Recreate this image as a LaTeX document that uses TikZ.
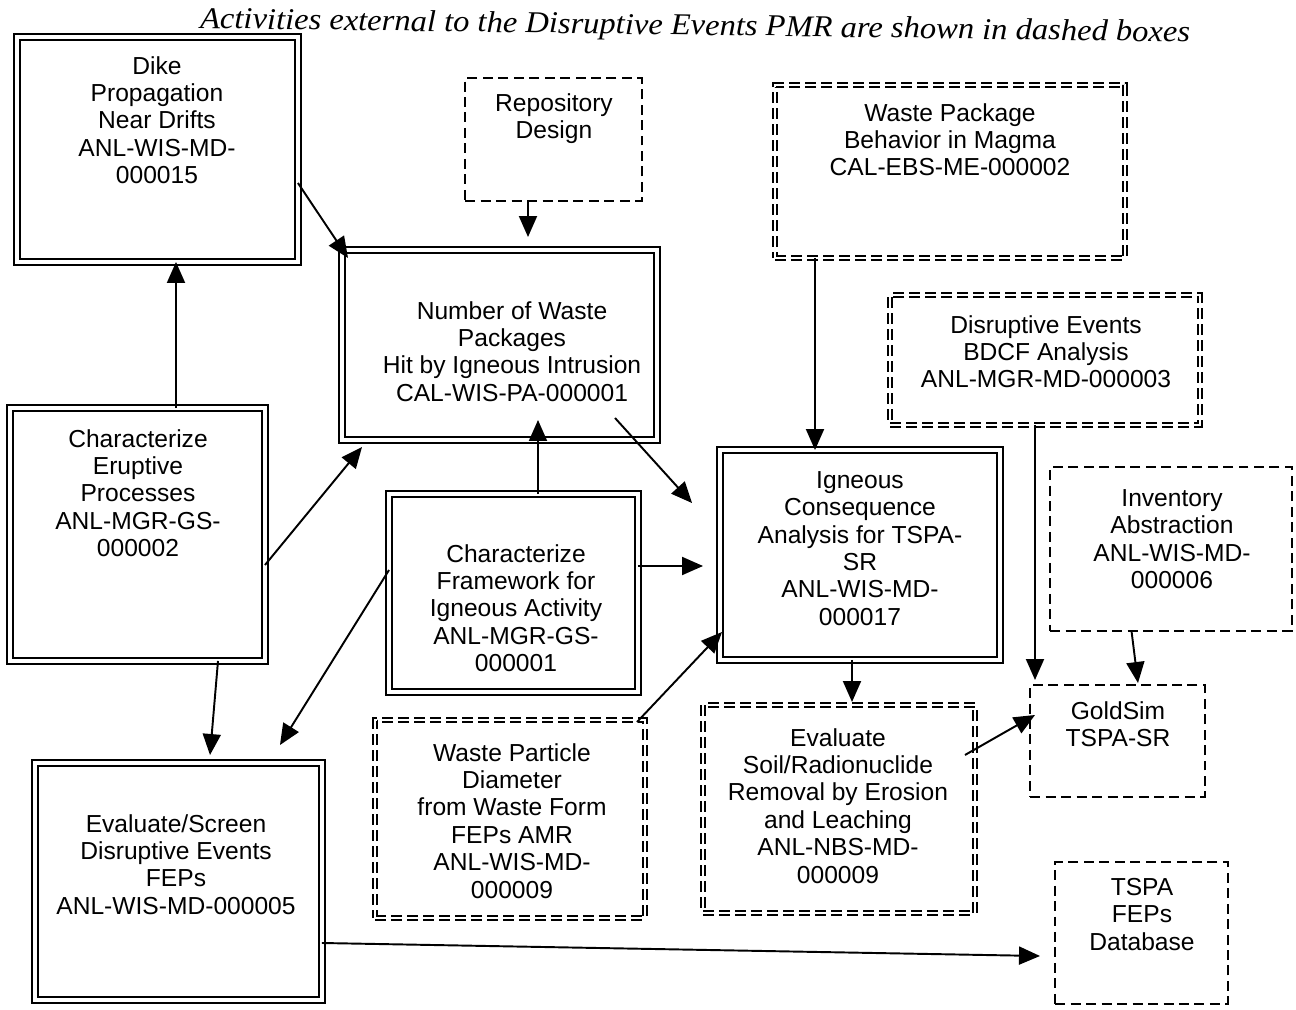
\documentclass[tikz,border=0pt]{standalone}
\usepackage{graphicx}
\usepackage{fontspec}
\setmainfont{Liberation Sans}
\newfontfamily\titlefont{Liberation Serif}
\usetikzlibrary{arrows.meta}
\begin{document}
\begin{tikzpicture}[x=0.02cm,y=-0.02cm,
 dbl/.style={draw, line width=1pt, double, double distance=2.2pt, inner sep=0pt, outer sep=0pt},
 dsh/.style={draw, line width=1.1pt, dash pattern=on 0.2cm off 0.11cm, inner sep=0pt, outer sep=0pt},
 ddsh/.style={draw, line width=0.8pt, double, double distance=1.6pt, dash pattern=on 0.22cm off 0.1cm, inner sep=0pt, outer sep=0pt},
 txt/.style={anchor=north, align=center, inner sep=0pt, font=\fontsize{14}{15.6}\selectfont},
 arr/.style={line width=1.1pt, -{Triangle[length=0.42cm,width=0.36cm]}},
]
\useasboundingbox (0,0) rectangle (1296,1010);

\node[anchor=base, rotate=-0.8, inner sep=0pt] (title) at (695,35)
  {\resizebox{19.8cm}{0.42cm}{\titlefont\itshape Activities external to the Disruptive Events PMR are shown in dashed boxes}};

% solid double boxes
\node[dbl, minimum width=5.62cm, minimum height=4.5cm] (dike) at (157.5,149.5) {};
\node[txt] (dikeT) at (157,56) {Dike\\Propagation\\Near Drifts\\ANL-WIS-MD-\\000015};

\node[dbl, minimum width=6.3cm, minimum height=3.8cm] (num) at (499.5,345) {};
\node[txt] (numT) at (512,301) {Number of Waste\\Packages\\Hit by Igneous Intrusion\\CAL-WIS-PA-000001};

\node[dbl, minimum width=5.1cm, minimum height=5.06cm] (erupt) at (137.5,534.5) {};
\node[txt] (eruptT) at (138,429) {Characterize\\Eruptive\\Processes\\ANL-MGR-GS-\\000002};

\node[dbl, minimum width=4.98cm, minimum height=3.96cm] (frame) at (513.5,593) {};
\node[txt] (frameT) at (516,544) {Characterize\\Framework for\\Igneous Activity\\ANL-MGR-GS-\\000001};

\node[dbl, minimum width=5.6cm, minimum height=4.2cm] (ign) at (860,555) {};
\node[txt] (ignT) at (860,471) {Igneous\\Consequence\\Analysis for TSPA-\\SR\\ANL-WIS-MD-\\000017};

\node[dbl, minimum width=5.74cm, minimum height=4.74cm] (screen) at (178.5,881.5) {};
\node[txt] (screenT) at (176,814) {Evaluate/Screen\\Disruptive Events\\FEPs\\ANL-WIS-MD-000005};

% single dashed boxes
\node[dsh, minimum width=3.54cm, minimum height=2.46cm] (repo) at (553.5,139.5) {};
\node[txt] (repoT) at (554,93) {Repository\\Design};

\node[dsh, minimum width=4.84cm, minimum height=3.28cm] (inv) at (1171,549) {};
\node[txt] (invT) at (1172,489) {Inventory\\Abstraction\\ANL-WIS-MD-\\000006};

\node[dsh, minimum width=3.5cm, minimum height=2.24cm] (gold) at (1117.5,741) {};
\node[txt] (goldT) at (1118,701) {GoldSim\\TSPA-SR};

\node[dsh, minimum width=3.46cm, minimum height=2.84cm] (tspa) at (1141.5,933) {};
\node[txt] (tspaT) at (1142,878) {TSPA\\FEPs\\Database};

% double dashed boxes
\node[ddsh, minimum width=7.0cm, minimum height=3.46cm] (wpb) at (950,171.5) {};
\node[txt] (wpbT) at (950,103) {Waste Package\\Behavior in Magma\\CAL-EBS-ME-000002};

\node[ddsh, minimum width=6.2cm, minimum height=2.6cm] (bdcf) at (1045,360) {};
\node[txt] (bdcfT) at (1046,315) {Disruptive Events\\BDCF Analysis\\ANL-MGR-MD-000003};

\node[ddsh, minimum width=5.4cm, minimum height=3.96cm] (wpd) at (510,819) {};
\node[txt] (wpdT) at (512,743) {Waste Particle\\Diameter\\from Waste Form\\FEPs AMR\\ANL-WIS-MD-\\000009};

\node[ddsh, minimum width=5.44cm, minimum height=4.16cm] (soil) at (839,809) {};
\node[txt] (soilT) at (838,728) {Evaluate\\Soil/Radionuclide\\Removal by Erosion\\and Leaching\\ANL-NBS-MD-\\000009};

% connectors
\draw[arr] ([shift={(0,33.5)}]dike.east) -- ([shift={(6,8)}]num.north west);
\draw[arr] ([shift={(-25.5,0)}]repo.south) -- ([shift={(28.5,-13)}]num.north);
\draw[arr] ([shift={(38.5,0)}]erupt.north) -- ([shift={(18.5,0)}]dike.south);
\draw[arr] ([shift={(0,30.5)}]erupt.east) -- ([shift={(20,7)}]num.south west);
\draw[arr] ([shift={(80.5,0)}]erupt.south) -- ([shift={(31.5,-8)}]screen.north);
\draw[arr] ([shift={(24.5,0)}]frame.north) -- ([shift={(38.5,-20)}]num.south);
\draw[arr] ([shift={(115.5,-22)}]num.south) -- ([shift={(-28,53)}]ign.north west);
\draw[arr] ([shift={(0,-27)}]frame.east) -- ([shift={(-17,11)}]ign.west);
\draw[arr] ([shift={(0,-23)}]frame.west) -- ([shift={(-42,-18)}]screen.north east);
\draw[arr] ([shift={(-8,2)}]wpd.north east) -- ([shift={(2,-28)}]ign.south west);
\draw[arr] ([shift={(-8,0)}]ign.south) -- ([shift={(13,-3)}]soil.north);
\draw[arr] ([shift={(-10,-54)}]soil.east) -- ([shift={(5,-26)}]gold.west);
\draw[arr] ([shift={(-135,0)}]wpb.south) -- ([shift={(-45,0)}]ign.north);
\draw[arr] ([shift={(-10,0)}]bdcf.south) -- ([shift={(-82.5,-5)}]gold.north);
\draw[arr] ([shift={(-39.5,0)}]inv.south) -- ([shift={(20.5,-2)}]gold.north);
\draw[arr] ([shift={(0,61.5)}]screen.east) -- ([shift={(-15,23)}]tspa.west);
\end{tikzpicture}
\end{document}
